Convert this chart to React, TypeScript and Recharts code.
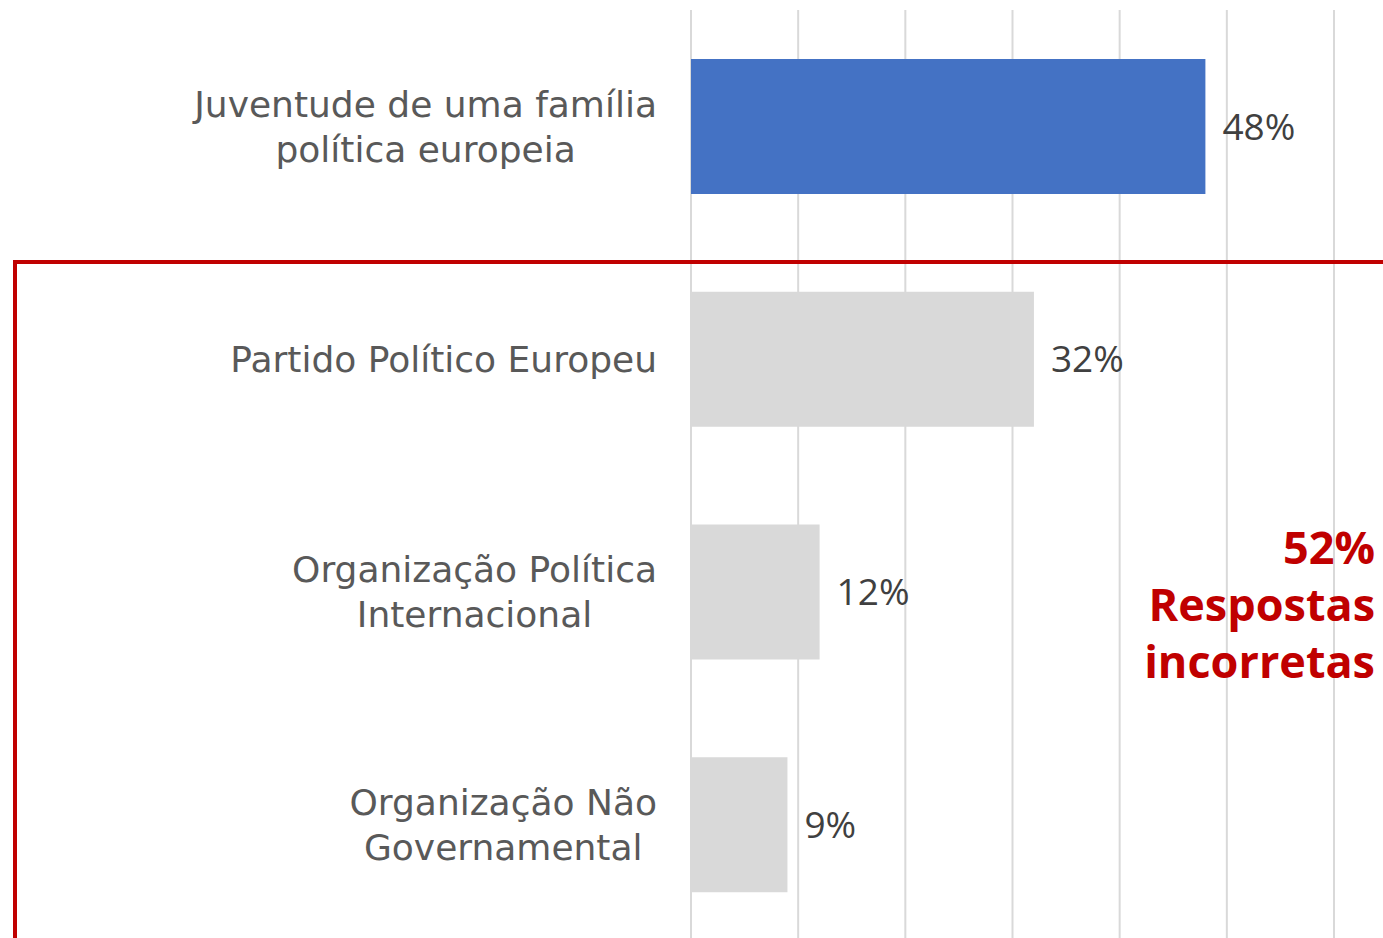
import React from 'react';
import { BarChart, Bar, XAxis, YAxis, CartesianGrid, Cell, LabelList } from 'recharts';

// Chart data
const categories = [
  'Juventude de uma família política europeia',
  'Partido Político Europeu',
  'Organização Política Internacional',
  'Organização Não Governamental',
];
const labelLines = [
  ['Juventude de uma família', 'política europeia'],
  ['Partido Político Europeu'],
  ['Organização Política', 'Internacional'],
  ['Organização Não', 'Governamental'],
];
const values = [48, 32, 12, 9];
const barColors = ['#4472C4', '#D9D9D9', '#D9D9D9', '#D9D9D9'];
const xTicks = [0, 10, 20, 30, 40, 50, 60];

const FONT = '"Open Sans", "DejaVu Sans", sans-serif';
const LABEL_FONT = '"DejaVu Sans", sans-serif';
const LABEL_SIZE = 36;

const data = categories.map((name, i) => ({ name, value: values[i], lines: labelLines[i] }));

let ctx: CanvasRenderingContext2D | null = null;
function measure(text: string) {
  if (!ctx) ctx = document.createElement('canvas').getContext('2d');
  if (!ctx) return text.length * LABEL_SIZE * 0.55;
  ctx.font = `${LABEL_SIZE}px ${LABEL_FONT}`;
  return ctx.measureText(text).width;
}

// multi-line label, block right-aligned, lines centred on each other
function CategoryTick(props: any) {
  const { x, y, payload } = props;
  const lines: string[] = labelLines[payload.index] ?? [String(payload.value)];
  const blockW = Math.max(...lines.map(measure));
  const right = x - 26;
  const cx = right - blockW / 2;
  const lh = 45;
  const top = y - ((lines.length - 1) * lh) / 2;
  return (
    <text
      x={cx}
      y={top}
      textAnchor="middle"
      fill="#595959"
      fontSize={LABEL_SIZE}
      fontFamily={LABEL_FONT}
    >
      {lines.map((l, i) => (
        <tspan key={i} x={cx} y={top + i * lh} dy="0.36em">
          {l}
        </tspan>
      ))}
    </text>
  );
}

export default function App() {
  return (
    <div style={{ position: 'absolute', left: 0, top: 0, width: 1383, height: 938, background: '#fff', overflow: 'hidden' }}>
      <BarChart
        width={1383}
        height={938}
        data={data}
        layout="vertical"
        margin={{ top: 10, right: 49, bottom: -3, left: 0 }}
        barCategoryGap="21%"
      >
        <CartesianGrid horizontal={false} stroke="#D9D9D9" strokeWidth={2} />
        <XAxis type="number" domain={[0, 60]} ticks={xTicks} hide />
        <YAxis
          type="category"
          dataKey="name"
          width={691}
          axisLine={false}
          tickLine={false}
          tick={<CategoryTick />}
        />
        <Bar dataKey="value" isAnimationActive={false}>
          {data.map((d, i) => (
            <Cell key={d.name} fill={barColors[i]} />
          ))}
          <LabelList
            dataKey="value"
            position="right"
            offset={17}
            formatter={(v: any) => `${v}%`}
            fill="#404040"
            fontSize={37}
            fontFamily={FONT}
          />
        </Bar>
      </BarChart>
      <div
        style={{
          position: 'absolute',
          left: 13,
          top: 260,
          width: 1500,
          height: 800,
          border: '4px solid #C00000',
          boxSizing: 'border-box',
          pointerEvents: 'none',
        }}
      />
      <div
        style={{
          position: 'absolute',
          right: 8,
          top: 518,
          textAlign: 'right',
          color: '#C00000',
          fontFamily: FONT,
          fontWeight: 700,
          fontSize: 45,
          lineHeight: '57px',
        }}
      >
        52%
        <br />
        Respostas
        <br />
        incorretas
      </div>
    </div>
  );
}
